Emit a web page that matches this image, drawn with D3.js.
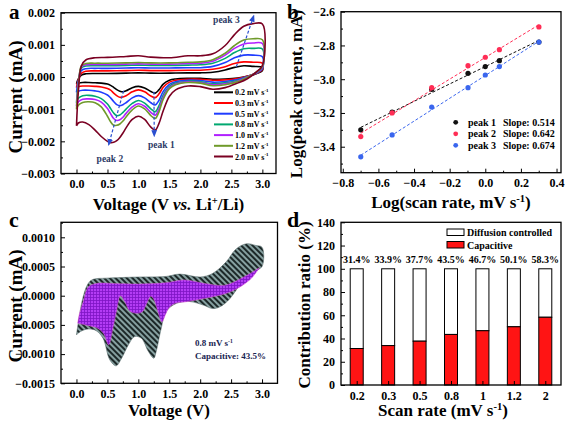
<!DOCTYPE html>
<html><head><meta charset="utf-8">
<script src="https://d3js.org/d3.v7.min.js"></script>
<style>
body{margin:0;background:#fff;}
svg{display:block;}
text{font-family:"Liberation Serif","Times New Roman",Times,serif;font-weight:bold;}
</style></head><body>
<svg id="chart" width="567" height="423"></svg>
<script>
// ===================== DATA =====================
// Panel a: CV curves (current in units of 1e-4 mA)
const scanRates = ["0.2","0.3","0.5","0.8","1.0","1.2","2.0"];
const cvColors = ["#000000","#ff0000","#1f3cff","#00a870","#b020ff","#6f9a2a","#7a0022"];
const upperV = [0.0,0.03,0.08,0.15,0.3,0.5,0.8,1.0,1.2,1.5,1.8,2.0,2.2,2.4,2.55,2.7,2.85,3.0];
const lowerV = [3.0,2.9,2.75,2.6,2.4,2.2,2.0,1.8,1.6,1.5,1.4,1.33,1.27,1.2,1.1,1.0,0.9,0.8,0.75,0.7,0.65,0.6,0.55,0.5,0.4,0.3,0.2,0.1,0.03,0.0];
const cv02Up = [-2.1,-0.6,0.6,1.0,1.1,1.1,1.2,1.3,1.2,1.2,1.3,1.3,1.5,2.2,3.0,3.5,3.3,3.0];
const cv02Lo = [2.0,1.0,0.2,-0.3,-0.6,-0.7,-0.4,-0.4,-0.6,-1.0,-2.2,-4.0,-5.0,-4.5,-3.4,-2.9,-3.3,-4.3,-4.6,-4.4,-3.9,-3.2,-2.6,-2.2,-1.9,-1.8,-1.7,-1.7,-1.9,-2.1];
const cv03Up = [-3.3,-0.8,1.2,1.8,1.9,1.9,2.0,2.1,2.0,2.0,2.1,2.1,2.4,3.2,4.2,4.7,4.6,4.3];
const cv03Lo = [2.3,1.1,0.2,-0.5,-0.9,-1.0,-0.7,-0.7,-1.0,-1.6,-3.2,-5.3,-6.4,-5.9,-4.6,-4.0,-4.6,-5.8,-6.2,-6.3,-5.8,-5.0,-4.1,-3.6,-3.1,-2.9,-2.8,-2.8,-3.0,-3.3];
const cv05Up = [-4.8,-1.2,2.0,2.6,2.7,2.7,2.8,2.9,2.8,2.8,2.9,2.9,3.3,4.5,6.0,6.8,6.8,6.3];
const cv05Lo = [2.6,1.2,0.1,-0.8,-1.4,-1.6,-1.1,-1.0,-1.5,-2.3,-4.5,-7.3,-8.7,-8.0,-6.5,-5.8,-6.5,-8.0,-8.6,-8.9,-8.6,-7.6,-6.5,-5.6,-4.7,-4.3,-4.1,-4.1,-4.4,-4.8];
const cv08Up = [-8.0,-2.0,2.8,3.4,3.5,3.5,3.6,3.7,3.6,3.6,3.7,3.8,4.3,5.8,7.6,8.8,8.9,8.7];
const cv08Lo = [2.9,1.3,0.0,-1.1,-1.8,-2.1,-1.5,-1.3,-1.9,-2.9,-5.6,-9.0,-10.8,-9.9,-8.1,-7.3,-8.2,-10.0,-11.0,-11.8,-12.0,-11.2,-9.8,-8.4,-6.7,-6.0,-5.7,-5.8,-6.6,-8.0];
const cv10Up = [-9.0,-2.4,3.2,3.8,3.9,3.9,4.0,4.1,4.0,4.0,4.2,4.3,4.9,6.8,8.9,10.3,10.6,10.4];
const cv10Lo = [3.1,1.4,-0.1,-1.3,-2.1,-2.4,-1.7,-1.5,-2.2,-3.3,-6.3,-10.0,-11.9,-11.0,-9.1,-8.3,-9.3,-11.3,-12.5,-13.3,-13.5,-12.9,-11.4,-9.8,-7.8,-7.0,-6.8,-6.9,-7.7,-9.0];
const cv12Up = [-10.0,-2.8,3.5,4.2,4.3,4.3,4.4,4.5,4.4,4.4,4.6,4.7,5.4,7.4,9.8,11.5,11.9,11.6];
const cv12Lo = [3.3,1.5,-0.2,-1.5,-2.4,-2.7,-1.9,-1.7,-2.4,-3.6,-6.9,-10.9,-12.9,-12.0,-9.9,-9.0,-10.2,-12.4,-13.7,-14.6,-15.0,-15.0,-13.9,-12.2,-9.3,-8.0,-7.7,-7.9,-8.8,-10.0];
const cv20Up = [-15.2,-4.5,3.5,5.3,6.0,6.1,6.4,6.6,6.2,6.0,6.6,6.6,7.2,9.8,13.2,15.8,16.6,16.5];
const cv20Lo = [3.6,1.5,-0.6,-1.9,-3.3,-3.8,-3.0,-2.8,-4.0,-6.0,-10.5,-14.5,-16.5,-15.6,-13.2,-12.2,-13.2,-15.8,-17.4,-18.8,-19.8,-20.3,-20.4,-20.0,-18.5,-16.5,-14.8,-14.0,-14.3,-15.2];
const cvUpper = [cv02Up,cv03Up,cv05Up,cv08Up,cv10Up,cv12Up,cv20Up];
const cvLower = [cv02Lo,cv03Lo,cv05Lo,cv08Lo,cv10Lo,cv12Lo,cv20Lo];
const peakNames = ["peak 1","peak 2","peak 3"];
const peakFrom = [[1.25,-4.6],[0.76,-4.3],[2.58,3.2]];
const peakTo = [[1.255,-18.3],[0.52,-21.0],[2.86,19.0]];
const peakText = [[1.37,-22.2],[0.54,-26.4],[2.42,16.9]];

// Panel b: log-log peak currents
const logRate = [-0.699,-0.523,-0.301,-0.097,0.0,0.079,0.301];
const logPeak1 = [-3.30,-3.195,-3.06,-2.965,-2.925,-2.89,-2.78];
const logPeak2 = [-3.34,-3.20,-3.05,-2.92,-2.87,-2.825,-2.69];
const logPeak3 = [-3.46,-3.33,-3.165,-3.05,-2.975,-2.925,-2.78];
const slopeLabels = ["0.514","0.642","0.674"];
const peakColors = ["#111111","#ff2d55","#3a66ee"];

// Panel c: capacitive separation at 0.8 mV/s (current in 1e-4 mA)
const totUpV = [0.0,0.05,0.1,0.19,0.27,0.48,1.0,1.45,1.67,2.0,2.2,2.42,2.58,2.75,2.9,3.0];
const totUpI = [-6.7,-3.3,-0.5,2.1,2.8,3.0,3.2,3.3,3.7,3.2,3.8,5.8,8.0,8.9,8.6,8.3];
const totLoV = [3.0,2.85,2.64,2.48,2.32,2.2,2.05,1.83,1.62,1.45,1.37,1.29,1.25,1.16,1.05,0.94,0.84,0.73,0.64,0.54,0.43,0.32,0.22,0.11,0.03,0.0];
const totLoI = [5.0,4.0,1.8,-0.5,-1.9,-2.2,-1.6,-1.0,-1.3,-2.7,-5.6,-9.5,-10.7,-9.5,-7.3,-7.0,-8.4,-10.7,-12.0,-11.0,-7.3,-6.0,-5.7,-5.9,-6.4,-6.7];
const capUpV = [0.02,0.05,0.11,0.19,0.32,0.6,1.0,1.43,1.75,2.07,2.4,2.72,2.96];
const capUpI = [-4.7,-3.0,-1.0,1.5,2.1,2.1,2.0,2.2,2.7,2.1,1.8,3.3,4.8];
const capLoV = [2.96,2.8,2.5,2.2,2.0,1.8,1.6,1.5,1.44,1.38,1.31,1.25,1.2,1.14,1.06,0.96,0.86,0.78,0.71,0.65,0.59,0.52,0.44,0.33,0.18,0.1,0.02];
const capLoI = [4.8,2.7,0.7,-0.2,-0.6,-1.0,-1.3,-2.0,-3.2,-4.5,-2.5,-0.6,-0.1,-1.2,-2.8,-3.0,-2.6,-1.0,0.0,-2.5,-5.5,-8.4,-6.5,-5.5,-5.1,-4.9,-4.7];

// Panel d: contribution ratios
const rateLabels = ["0.2","0.3","0.5","0.8","1","1.2","2"];
const capacitive = [31.4,33.9,37.7,43.5,46.7,50.1,58.3];

// ===================== HELPERS =====================
const svg = d3.select("#chart");
const U = 1e-4;

function rich(g, x, y, parts, size, anchor, rot, fill) {
  const t = g.append("text").attr("x", x).attr("y", y)
    .attr("font-size", size).attr("text-anchor", anchor || "start")
    .attr("fill", fill || "#000");
  if (rot) t.attr("transform", `rotate(-90,${x},${y})`);
  let shift = 0;
  parts.forEach(p => {
    const s = t.append("tspan").text(p[0]);
    if (p[1] === "sup") {
      s.attr("font-size", size * 0.62).attr("dy", -size * 0.38 - shift);
      shift = -size * 0.38;
    } else {
      if (shift !== 0) { s.attr("dy", -shift); shift = 0; }
      if (p[1] === "i") s.attr("font-style", "italic");
    }
  });
  return t;
}

function styleAxis(a, size) {
  a.attr("font-family", '"Liberation Serif","Times New Roman",serif')
   .attr("font-size", size).attr("font-weight", "bold");
  a.select(".domain").remove();
  a.selectAll("line").attr("stroke", "#000").attr("stroke-width", 1);
}

function frame(g, x, y, o) {
  const [x0, x1] = x.range(), [yb, yt] = y.range();
  if (o.xMinor) styleAxis(g.append("g").attr("transform", `translate(0,${yb})`)
      .call(d3.axisBottom(x).tickValues(o.xMinor).tickSize(-2).tickFormat("")), 11);
  if (o.yMinor) styleAxis(g.append("g").attr("transform", `translate(${x0},0)`)
      .call(d3.axisLeft(y).tickValues(o.yMinor).tickSize(-2).tickFormat("")), 11);
  styleAxis(g.append("g").attr("transform", `translate(0,${yb})`)
      .call(d3.axisBottom(x).tickValues(o.xTicks).tickSize(-4).tickPadding(6).tickFormat(o.xFmt)), o.fs);
  styleAxis(g.append("g").attr("transform", `translate(${x0},0)`)
      .call(d3.axisLeft(y).tickValues(o.yTicks).tickSize(-4).tickPadding(6).tickFormat(o.yFmt)), o.fs);
  g.append("rect").attr("x", x0).attr("y", yt).attr("width", x1 - x0).attr("height", yb - yt)
    .attr("fill", "none").attr("stroke", "#000").attr("stroke-width", 1.3);
}

const rng = (a, b, s) => d3.range(Math.round((b - a) / s) + 1).map(i => +(a + i * s).toFixed(6));

// defs
const defs = svg.append("defs");
const arrow = defs.append("marker").attr("id", "arr").attr("viewBox", "0 0 10 10")
  .attr("refX", 8).attr("refY", 5).attr("markerWidth", 6).attr("markerHeight", 6)
  .attr("orient", "auto-start-reverse");
arrow.append("path").attr("d", "M0,1 L10,5 L0,9 z").attr("fill", "#2a4fd0");
const hatch = defs.append("pattern").attr("id", "hatch").attr("patternUnits", "userSpaceOnUse")
  .attr("width", 4).attr("height", 4).attr("patternTransform", "rotate(-45)");
hatch.append("rect").attr("width", 4).attr("height", 4).attr("fill", "#86a0a0");
hatch.append("rect").attr("x", 0).attr("width", 2).attr("height", 4).attr("fill", "#1c2828");
const grid = defs.append("pattern").attr("id", "grid").attr("patternUnits", "userSpaceOnUse")
  .attr("width", 3).attr("height", 3);
grid.append("rect").attr("width", 3).attr("height", 3).attr("fill", "#b43cf5");
grid.append("path").attr("d", "M0,0.5 H3 M0.5,0 V3").attr("stroke", "#7d14c4").attr("stroke-width", 0.8);

// ===================== PANEL A =====================
{
  const g = svg.append("g");
  const x = d3.scaleLinear().domain([-0.25, 3.22]).range([61, 276]);
  const y = d3.scaleLinear().domain([-0.003, 0.002]).range([173.5, 12.7]);
  const line = d3.line().x(d => x(d[0])).y(d => y(d[1] * U)).curve(d3.curveCatmullRom.alpha(0.5));
  cvUpper.forEach((up, i) => {
    const pts = upperV.map((v, j) => [v, up[j]]).concat(lowerV.map((v, j) => [v, cvLower[i][j]]));
    g.append("path").attr("d", line(pts)).attr("fill", "none")
      .attr("stroke", cvColors[i]).attr("stroke-width", 1.6);
  });
  peakNames.forEach((n, i) => {
    g.append("line").attr("x1", x(peakFrom[i][0])).attr("y1", y(peakFrom[i][1] * U))
      .attr("x2", x(peakTo[i][0])).attr("y2", y(peakTo[i][1] * U))
      .attr("stroke", "#2a4fd0").attr("stroke-width", 1.2).attr("stroke-dasharray", "3,2")
      .attr("marker-end", "url(#arr)");
    g.append("text").attr("x", x(peakText[i][0])).attr("y", y(peakText[i][1] * U))
      .attr("text-anchor", "middle").attr("font-size", 9.5).attr("fill", "#2c3a66").text(n);
  });
  frame(g, x, y, {
    xTicks: rng(0, 3, 0.5), xMinor: rng(0.25, 2.75, 0.5), xFmt: d3.format(".1f"),
    yTicks: rng(-0.003, 0.002, 0.001), yMinor: rng(-0.0025, 0.0015, 0.001), yFmt: d3.format(".3f"), fs: 12
  });
  scanRates.forEach((r, i) => {
    const yy = 92.3 + i * 10.7;
    g.append("line").attr("x1", 214).attr("x2", 233).attr("y1", yy).attr("y2", yy)
      .attr("stroke", cvColors[i]).attr("stroke-width", 2);
    rich(g, 235, yy + 3, [[r + " mV s", ""], ["-1", "sup"]], 8, "start");
  });
  rich(g, 168.5, 210, [["Voltage (V ", ""], ["vs.", "i"], [" Li", ""], ["+", "sup"], ["/Li)", ""]], 17, "middle");
  rich(g, 22, 97, [["Current (mA)", ""]], 19, "middle", true);
  g.append("text").attr("x", 9).attr("y", 19).attr("font-size", 21).text("a");
}

// ===================== PANEL B =====================
{
  const g = svg.append("g");
  const x = d3.scaleLinear().domain([-0.81, 0.425]).range([341, 561]);
  const y = d3.scaleLinear().domain([-3.554, -2.6]).range([172.7, 11.7]);
  [logPeak1, logPeak2, logPeak3].forEach((ys, i) => {
    const mx = d3.mean(logRate), my = d3.mean(ys);
    const b = d3.sum(logRate, (v, k) => (v - mx) * (ys[k] - my)) / d3.sum(logRate, v => (v - mx) ** 2);
    const a = my - b * mx;
    const xa = d3.min(logRate), xb = d3.max(logRate);
    g.append("line").attr("x1", x(xa)).attr("y1", y(a + b * xa)).attr("x2", x(xb)).attr("y2", y(a + b * xb))
      .attr("stroke", peakColors[i]).attr("stroke-width", 1).attr("stroke-dasharray", "3,2");
    g.selectAll(null).data(ys).join("circle").attr("cx", (d, k) => x(logRate[k])).attr("cy", d => y(d))
      .attr("r", 2.6).attr("fill", peakColors[i]);
  });
  frame(g, x, y, {
    xTicks: rng(-0.8, 0.4, 0.2), xMinor: rng(-0.7, 0.3, 0.2), xFmt: d3.format(".1f"),
    yTicks: rng(-3.4, -2.6, 0.2), yMinor: rng(-3.5, -2.7, 0.2), yFmt: d3.format(".1f"), fs: 12
  });
  peakNames.forEach((n, i) => {
    const yy = 122.3 + i * 11.5;
    g.append("circle").attr("cx", 455.7).attr("cy", yy).attr("r", 2.4).attr("fill", peakColors[i]);
    g.append("text").attr("x", 468).attr("y", yy + 3.5).attr("font-size", 10).text(n);
    g.append("text").attr("x", 503).attr("y", yy + 3.5).attr("font-size", 10).text("Slope: " + slopeLabels[i]);
  });
  rich(g, 451, 208, [["Log(scan rate, mV s", ""], ["-1", "sup"], [")", ""]], 17, "middle");
  rich(g, 302, 94, [["Log(peak current, mA)", ""]], 17, "middle", true);
  g.append("text").attr("x", 287).attr("y", 19).attr("font-size", 21).text("b");
}

// ===================== PANEL C =====================
{
  const g = svg.append("g");
  const x = d3.scaleLinear().domain([-0.25, 3.25]).range([61, 277.5]);
  const y = d3.scaleLinear().domain([-0.0015, 0.001257]).range([383.3, 222.3]);
  const area = d3.line().x(d => x(d[0])).y(d => y(d[1] * U)).curve(d3.curveCatmullRomClosed.alpha(0.5));
  const tot = totUpV.map((v, j) => [v, totUpI[j]]).concat(totLoV.map((v, j) => [v, totLoI[j]]));
  const cap = capUpV.map((v, j) => [v, capUpI[j]]).concat(capLoV.map((v, j) => [v, capLoI[j]]));
  g.append("path").attr("d", area(tot)).attr("fill", "url(#hatch)").attr("stroke", "#5a6e6e").attr("stroke-width", 0.6);
  g.append("path").attr("d", area(cap)).attr("fill", "url(#grid)").attr("stroke", "#e060d0").attr("stroke-width", 0.5);
  frame(g, x, y, {
    xTicks: rng(0, 3, 0.5), xMinor: rng(0.25, 2.75, 0.5), xFmt: d3.format(".1f"),
    yTicks: rng(-0.0015, 0.001, 0.0005), yMinor: rng(-0.00125, 0.00125, 0.0005), yFmt: d3.format(".4f"), fs: 12
  });
  rich(g, 195, 346, [["0.8 mV s", ""], ["-1", "sup"]], 9, "start", false, "#1a2552");
  g.append("text").attr("x", 195).attr("y", 359).attr("font-size", 9).attr("fill", "#1a2552").text("Capacitive: 43.5%");
  rich(g, 169, 416, [["Voltage (V)", ""]], 17, "middle");
  rich(g, 22, 306, [["Current (mA)", ""]], 19, "middle", true);
  g.append("text").attr("x", 9).attr("y", 227).attr("font-size", 22).text("c");
}

// ===================== PANEL D =====================
{
  const g = svg.append("g");
  const x = d3.scalePoint().domain(rateLabels).range([341, 561]).padding(0.5);
  const y = d3.scaleLinear().domain([0, 140]).range([385, 222.3]);
  const bw = 13;
  g.selectAll(null).data(capacitive).join("rect")
    .attr("x", (d, i) => x(rateLabels[i]) - bw / 2).attr("y", y(100)).attr("width", bw)
    .attr("height", d => y(d) - y(100)).attr("fill", "#fff").attr("stroke", "#000").attr("stroke-width", 1);
  g.selectAll(null).data(capacitive).join("rect")
    .attr("x", (d, i) => x(rateLabels[i]) - bw / 2).attr("y", d => y(d)).attr("width", bw)
    .attr("height", d => y(0) - y(d)).attr("fill", "#ff1414").attr("stroke", "#000").attr("stroke-width", 1);
  g.selectAll(null).data(capacitive).join("text")
    .attr("x", (d, i) => x(rateLabels[i])).attr("y", y(100) - 6).attr("text-anchor", "middle")
    .attr("font-size", 10).text(d => d.toFixed(1) + "%");
  frame(g, x, y, {
    xTicks: rateLabels, xFmt: d => d,
    yTicks: rng(0, 140, 20), yMinor: rng(10, 130, 20), yFmt: d3.format("d"), fs: 12
  });
  g.append("rect").attr("x", 447).attr("y", 229).attr("width", 17).attr("height", 6.5).attr("fill", "#fff").attr("stroke", "#000");
  g.append("text").attr("x", 467).attr("y", 236).attr("font-size", 10).text("Diffusion controlled");
  g.append("rect").attr("x", 447).attr("y", 241.5).attr("width", 17).attr("height", 6.5).attr("fill", "#ff1414").attr("stroke", "#000");
  g.append("text").attr("x", 467).attr("y", 248.5).attr("font-size", 10).text("Capacitive");
  rich(g, 443, 416, [["Scan rate (mV s", ""], ["-1", "sup"], [")", ""]], 17, "middle");
  rich(g, 310, 305, [["Contribution ratio (%)", ""]], 17, "middle", true);
  g.append("text").attr("x", 287).attr("y", 227).attr("font-size", 22).text("d");
}
</script>
</body></html>
